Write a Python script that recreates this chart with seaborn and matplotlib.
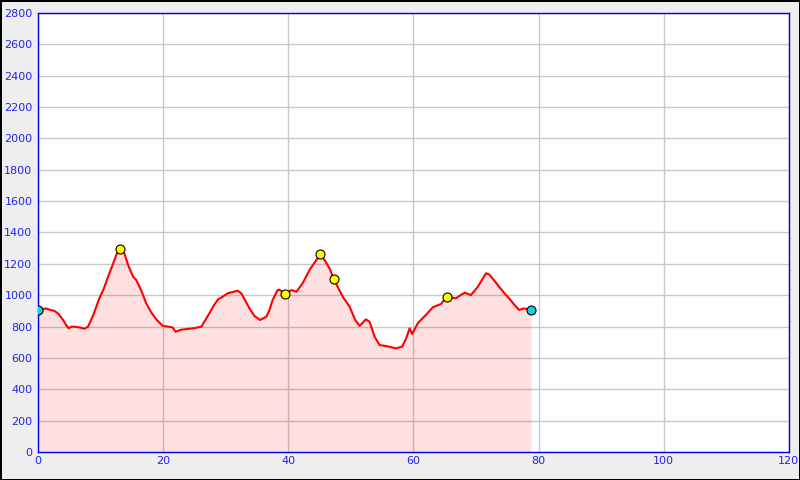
import matplotlib
matplotlib.use("Agg")
import matplotlib.pyplot as plt
import numpy as np
import pandas as pd
import seaborn as sns

# Elevation profile (km, m)
dist_km = [0.0, 0.6, 1.3, 2.0, 2.6, 3.3, 4.0, 4.5, 4.9, 5.4, 5.8, 6.6, 7.4, 8.0, 8.9,
           9.8, 10.5, 11.2, 11.9, 12.5, 13.1, 13.8, 14.4, 15.2, 15.7, 16.5, 17.3, 18.1,
           18.9, 19.9, 20.7, 21.5, 22.0, 22.9, 23.7, 25.0, 26.1, 27.4, 28.1, 28.8, 29.5,
           30.3, 31.1, 31.9, 32.5, 33.2, 33.8, 34.6, 35.5, 36.5, 37.0, 37.5, 38.3, 38.6,
           39.5, 40.5, 41.3, 42.3, 43.4, 44.5, 45.1, 45.8, 46.6, 47.3, 48.0, 48.7, 49.8,
           50.7, 51.4, 52.4, 53.0, 53.8, 54.6, 55.6, 56.5, 57.2, 58.2, 58.8, 59.4, 59.8,
           60.7, 61.4, 62.0, 63.1, 64.4, 65.3, 66.0, 66.8, 67.5, 68.2, 69.2, 70.3, 71.0,
           71.6, 72.1, 72.9, 73.7, 74.5, 75.3, 76.1, 76.9, 77.7, 78.8]
elev_m = [906, 910, 916, 905, 901, 880, 842, 810, 789, 800, 799, 795, 786, 799, 880,
          980, 1040, 1118, 1190, 1256, 1295, 1267, 1193, 1118, 1097, 1030, 948, 890,
          846, 805, 800, 795, 767, 780, 784, 790, 799, 885, 935, 974, 990,
          1012, 1020, 1029, 1012, 960, 916, 867, 842, 863, 906, 969, 1033, 1035,
          1008, 1033, 1022, 1076, 1161, 1225, 1263, 1225, 1171, 1101, 1045, 991, 927,
          842, 804, 846, 831, 735, 682, 676, 668, 661, 672, 720, 789, 753,
          821, 850, 874, 923, 944, 987, 985, 980, 1000, 1016, 1001, 1054, 1100,
          1140, 1133, 1095, 1054, 1015, 980, 940, 906, 916, 904]

# Waypoints on the route
wp_km = [13.1, 39.5, 45.1, 47.3, 65.3]
wp_m = [1295, 1008, 1263, 1101, 987]
end_km = [0.0, 78.8]
end_m = [906, 904]

profile = pd.DataFrame({"km": dist_km, "m": elev_m})
waypoints = pd.DataFrame({"km": wp_km, "m": wp_m})
ends = pd.DataFrame({"km": end_km, "m": end_m})

sns.set_style("whitegrid", {"grid.color": "#c8c8c8", "axes.edgecolor": "#0000ee"})
plt.rcParams["font.family"] = ["DejaVu Sans"]

fig = plt.figure(figsize=(8, 4.8), dpi=100, facecolor="#eeeeee",
                 edgecolor="black", linewidth=2)
ax = fig.add_axes([0.0475, 0.0583, 0.9385, 0.9147])
ax.set_facecolor("white")

ax.fill_between(profile["km"], profile["m"], 0, color="red", alpha=0.12,
                linewidth=0, zorder=2)
sns.lineplot(data=profile, x="km", y="m", color="red", linewidth=1.5, ax=ax,
             zorder=3, estimator=None, sort=False)
sns.scatterplot(data=waypoints, x="km", y="m", color="yellow", edgecolor="black",
                s=42, linewidth=0.8, ax=ax, zorder=4)
sns.scatterplot(data=ends, x="km", y="m", color="#22ccdd", edgecolor="black",
                s=42, linewidth=0.8, ax=ax, zorder=4)

ax.set_xlim(0, 120)
ax.set_ylim(0, 2800)
ax.set_xticks(np.arange(0, 121, 20))
ax.set_yticks(np.arange(0, 2801, 200))
ax.set_xlabel("")
ax.set_ylabel("")
ax.grid(True, color="#c8c8c8", linewidth=1, zorder=1)
ax.set_axisbelow(True)
ax.tick_params(direction="in", length=5, width=1, color="#0000ee",
               labelcolor="#2222ee", labelsize=8, pad=3)
ax.tick_params(axis="y", pad=4)
for s in ax.spines.values():
    s.set_color("#0000ee")
    s.set_linewidth(1)
    s.set_visible(True)

fig.savefig("out.png", dpi=100, facecolor=fig.get_facecolor(), edgecolor="black")
